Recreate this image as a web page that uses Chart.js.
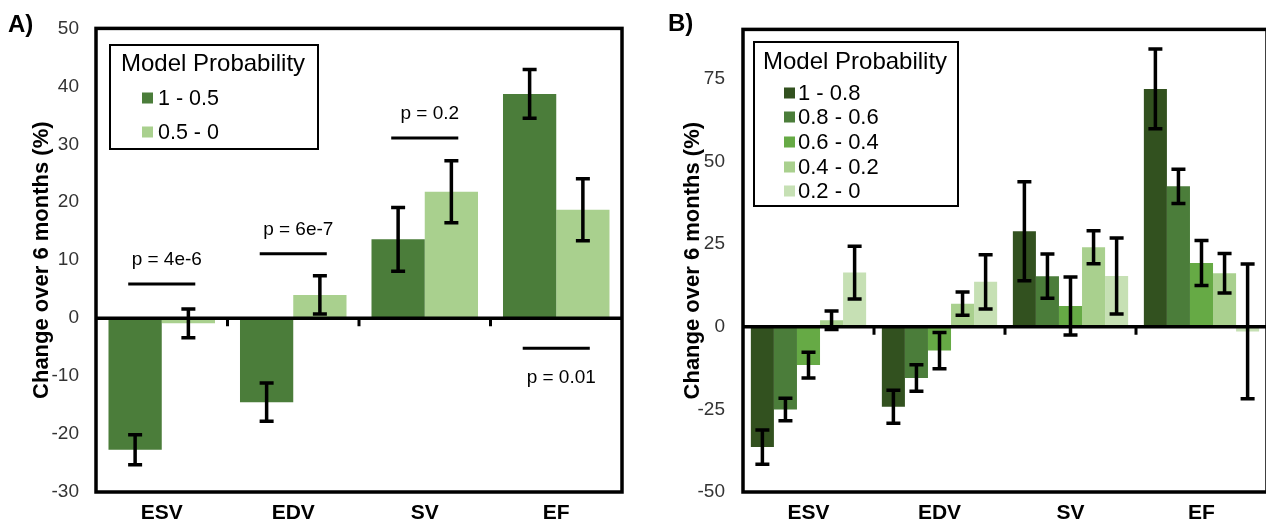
<!DOCTYPE html>
<html><head><meta charset="utf-8">
<script src="https://cdn.jsdelivr.net/npm/chart.js@4.4.1/dist/chart.umd.min.js"></script>
<style>
html,body{margin:0;padding:0;background:#fff;overflow:hidden;width:1266px;height:529px;position:relative;}
#ca{position:absolute;left:0;top:0;}
#cb{position:absolute;left:640px;top:0;}
.pl{position:absolute;font:bold 24px "Liberation Sans",Arial,sans-serif;color:#000;line-height:1;}
</style></head><body>
<canvas id="ca" width="640" height="529"></canvas>
<canvas id="cb" width="640" height="529"></canvas>
<div class="pl" style="left:8px;top:12px">A)</div>
<div class="pl" style="left:668px;top:11px">B)</div>
<script>
// ---------- data ----------
const categories = ['ESV', 'EDV', 'SV', 'EF'];
const axisTitle = 'Change over 6 months (%)';
const legendTitle = 'Model Probability';

// Panel A
const seriesA = ['1 - 0.5', '0.5 - 0'];
const valuesA1 = [-22.7, -14.5, 13.6, 38.7];
const valuesA2 = [-0.9, 4.0, 21.8, 18.7];
const errorsA1 = [2.6, 3.3, 5.5, 4.2];
const errorsA2 = [2.5, 3.3, 5.35, 5.35];
const pLabelsA = ['p = 4e-6', 'p = 6e-7', 'p = 0.2', 'p = 0.01'];
const pLevelsA = [5.9, 11.1, 31.1, -5.2];
const ticksA = [-30, -20, -10, 0, 10, 20, 30, 40, 50];

// Panel B
const seriesB = ['1 - 0.8', '0.8 - 0.6', '0.6 - 0.4', '0.4 - 0.2', '0.2 - 0'];
const valuesB1 = [-36.4, -24.2, 28.9, 72.0];
const valuesB2 = [-25.0, -15.5, 15.3, 42.5];
const valuesB3 = [-11.6, -7.2, 6.3, 19.3];
const valuesB4 = [2.0, 7.0, 24.1, 16.2];
const valuesB5 = [16.4, 13.6, 15.4, -1.4];
const errorsB1 = [5.2, 5.0, 15.0, 12.1];
const errorsB2 = [3.4, 4.0, 6.7, 5.2];
const errorsB3 = [3.9, 5.5, 8.8, 6.8];
const errorsB4 = [2.8, 3.5, 5.0, 6.0];
const errorsB5 = [8.0, 8.2, 11.5, 20.4];
const ticksB = [-50, -25, 0, 25, 50, 75];

// ---------- styles ----------
const FONT = '"Liberation Sans", Arial, sans-serif';
const colorsA = ['#4b7d3a', '#a9d08e'];
const colorsB = ['#32511f', '#4b7d3a', '#66aa45', '#a9d08e', '#c6e0b4'];

const decor = {
  id: 'decor',
  afterDatasetsDraw(chart, args, o) {
    const {ctx, chartArea: a, scales: {x, y}} = chart;
    ctx.save();
    ctx.strokeStyle = '#000';
    ctx.lineCap = 'butt';
    // zero line
    const y0 = y.getPixelForValue(0);
    ctx.lineWidth = 3.5;
    ctx.beginPath(); ctx.moveTo(a.left, y0); ctx.lineTo(a.right, y0); ctx.stroke();
    // category boundary tick marks
    ctx.lineWidth = 3;
    ctx.beginPath();
    for (let i = 1; i < chart.data.labels.length; i++) {
      const xb = (x.getPixelForValue(i - 1) + x.getPixelForValue(i)) / 2;
      ctx.moveTo(xb, y0); ctx.lineTo(xb, y0 + 8);
    }
    ctx.stroke();
    // error bars
    chart.data.datasets.forEach((ds, di) => {
      const meta = chart.getDatasetMeta(di);
      meta.data.forEach((bar, i) => {
        const v = ds.data[i], e = ds.errors[i];
        const yt = y.getPixelForValue(v + e), yb = y.getPixelForValue(v - e);
        ctx.lineWidth = 3.5;
        ctx.beginPath();
        ctx.moveTo(bar.x, yt); ctx.lineTo(bar.x, yb);
        ctx.moveTo(bar.x - o.cap, yt); ctx.lineTo(bar.x + o.cap, yt);
        ctx.moveTo(bar.x - o.cap, yb); ctx.lineTo(bar.x + o.cap, yb);
        ctx.stroke();
      });
    });
    // significance lines
    if (o.sig) {
      const cw = (a.right - a.left) / chart.data.labels.length;
      o.sig.levels.forEach((lv, i) => {
        const xc = x.getPixelForValue(i);
        const yy = y.getPixelForValue(lv);
        ctx.lineWidth = 3;
        ctx.beginPath(); ctx.moveTo(xc - cw * 0.255, yy); ctx.lineTo(xc + cw * 0.255, yy); ctx.stroke();
        ctx.fillStyle = '#000';
        ctx.font = '19px ' + FONT;
        ctx.textAlign = 'center'; ctx.textBaseline = 'middle';
        const ty = lv >= 0 ? yy - 24 : yy + 29;
        ctx.fillText(o.sig.labels[i], xc + 5, ty);
      });
    }
    // plot frame
    ctx.lineWidth = 3.5;
    ctx.strokeRect(a.left, a.top, a.right - a.left, a.bottom - a.top);
    // legend
    const L = o.legend;
    ctx.lineWidth = 2;
    ctx.strokeRect(L.x, L.y, L.w, L.h);
    ctx.fillStyle = '#000';
    ctx.textAlign = 'left'; ctx.textBaseline = 'middle';
    ctx.font = L.titleSize + 'px ' + FONT;
    ctx.fillText(legendTitle, L.titleX, L.titleY);
    ctx.font = L.itemSize + 'px ' + FONT;
    chart.data.datasets.forEach((ds, i) => {
      const ry = L.rows[i];
      ctx.fillStyle = ds.backgroundColor;
      ctx.fillRect(L.swX, ry - L.sw / 2, L.sw, L.sw);
      ctx.fillStyle = '#000';
      ctx.fillText(ds.label, L.textX, ry + 1);
    });
    ctx.restore();
  }
};

function makeChart(id, cfg) {
  return new Chart(document.getElementById(id), {
    type: 'bar',
    data: {
      labels: categories,
      datasets: cfg.series.map((s, i) => ({
        label: s,
        data: cfg.values[i],
        errors: cfg.errors[i],
        backgroundColor: cfg.colors[i],
        borderWidth: 0,
        categoryPercentage: cfg.catPct,
        barPercentage: 1.0
      }))
    },
    options: {
      responsive: false,
      animation: false,
      layout: {padding: {left: 0, right: cfg.padRight, top: 26, bottom: 0}},
      plugins: {
        legend: {display: false},
        tooltip: {enabled: false},
        decor: {cap: 7, sig: cfg.sig, legend: cfg.legend}
      },
      scales: {
        x: {
          type: 'category',
          offset: true,
          grid: {display: false, drawTicks: false},
          border: {display: false},
          ticks: {color: '#000', font: {family: FONT, size: 21, weight: 'bold'}, padding: 9, maxRotation: 0},
          afterFit: s => { s.height = 37; }
        },
        y: {
          min: cfg.min, max: cfg.max,
          grid: {display: false, drawTicks: false},
          border: {display: false},
          afterBuildTicks: s => { s.ticks = cfg.ticks.map(v => ({value: v})); },
          ticks: {color: '#333333', font: {family: FONT, size: 19}, padding: cfg.tickPad},
          title: {display: true, text: axisTitle, color: '#000',
                  font: {family: FONT, size: cfg.titleSize, weight: 'bold', lineHeight: 1.2},
                  padding: {top: cfg.titlePad, bottom: 0}},
          afterFit: s => { s.width = cfg.axisWidth; }
        }
      }
    },
    plugins: [decor]
  });
}

makeChart('ca', {
  series: seriesA, values: [valuesA1, valuesA2], errors: [errorsA1, errorsA2], colors: colorsA,
  catPct: 0.81, padRight: 18, min: -30, max: 50, ticks: ticksA, tickPad: 17,
  titleSize: 22, titlePad: 29, axisWidth: 96,
  sig: {levels: pLevelsA, labels: pLabelsA},
  legend: {x: 110, y: 45, w: 208, h: 104, titleX: 121, titleY: 64, titleSize: 24, itemSize: 21.5,
           swX: 142, sw: 11, textX: 158, rows: [98, 132]}
});

makeChart('cb', {
  series: seriesB, values: [valuesB1, valuesB2, valuesB3, valuesB4, valuesB5],
  errors: [errorsB1, errorsB2, errorsB3, errorsB4, errorsB5], colors: colorsB,
  catPct: 0.88, padRight: 13, min: -50, max: 90, ticks: ticksB, tickPad: 18,
  titleSize: 22, titlePad: 40, axisWidth: 103,
  sig: null,
  legend: {x: 114, y: 42, w: 204, h: 164, titleX: 123, titleY: 62, titleSize: 24, itemSize: 22,
           swX: 144, sw: 11, textX: 158, rows: [93, 117, 142, 167, 191]}
});
</script>
</body></html>
